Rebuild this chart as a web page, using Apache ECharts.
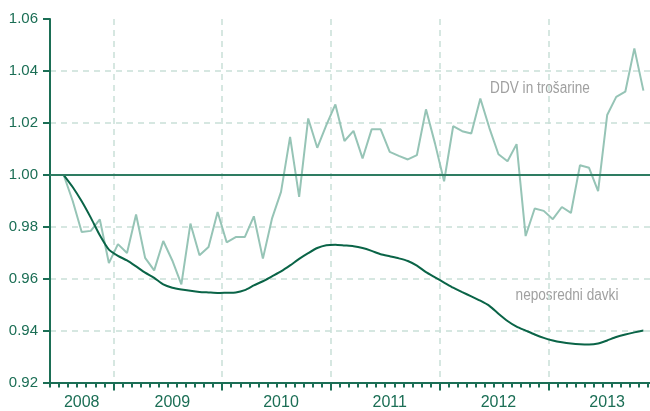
<!DOCTYPE html>
<html>
<head>
<meta charset="utf-8">
<script src="https://cdn.jsdelivr.net/npm/echarts@6/dist/echarts.min.js"></script>
<style>
  html, body { margin: 0; padding: 0; background: #fff; overflow: hidden; }
  /* the original chart is cut off on its right edge, inside December 2013 */
  #chart { width: 657px; height: 411px; }
</style>
</head>
<body>
<div id="chart"></div>
<script>
  // months from Jun 2008 to Dec 2013 (first and last have no value)
  const startYear = 2008;
  const startMonth = 6;
  const monthCount = 67;
  const months = [];
  for (let i = 0; i < monthCount; i++) {
    const m = startMonth - 1 + i;
    months.push((startYear + Math.floor(m / 12)) + '-' + String(m % 12 + 1).padStart(2, '0'));
  }

  // year labels and the month they sit on
  const yearLabels = { '2008-09': '2008', '2009-07': '2009', '2010-07': '2010', '2011-07': '2011', '2012-07': '2012', '2013-07': '2013' };

  // DDV in trošarine, Jul 2008 .. Nov 2013
  const ddv = [
    1.000, 0.990, 0.978, 0.9784, 0.9828, 0.966,
    0.9733, 0.9699, 0.9847, 0.968, 0.9632, 0.9745, 0.967, 0.9578, 0.9812, 0.969, 0.9722, 0.9857,
    0.974, 0.976, 0.976, 0.984, 0.9677, 0.9831, 0.9934, 1.0146, 0.9915, 1.0217, 1.0104, 1.0191,
    1.0271, 1.013, 1.0169, 1.0063, 1.0175, 1.0175, 1.0088, 1.0073, 1.0059, 1.0076, 1.0252, 1.012,
    0.9975, 1.0187, 1.0168, 1.0159, 1.0294, 1.018, 1.0079, 1.0052, 1.0118, 0.9764, 0.987, 0.9861,
    0.9829, 0.9876, 0.9853, 1.0037, 1.0027, 0.9937, 1.023, 1.030, 1.032, 1.0487, 1.0324
  ];

  // neposredni davki, Jul 2008 .. Nov 2013
  const neposredni = [
    1.000, 0.9953, 0.9898, 0.9835, 0.9767, 0.9712,
    0.9688, 0.967, 0.9647, 0.9623, 0.9603, 0.9578, 0.9565, 0.9558, 0.9553, 0.9549, 0.9547, 0.9545,
    0.9546, 0.9547, 0.9556, 0.9574, 0.959, 0.9609, 0.9628, 0.9651, 0.9676, 0.9698, 0.9718, 0.9729,
    0.9731, 0.9728, 0.9725, 0.9718, 0.9707, 0.9694, 0.9686, 0.9678, 0.9668, 0.965, 0.9625, 0.9605,
    0.9585, 0.9565, 0.9548, 0.9532, 0.9515, 0.9495, 0.9465, 0.9437, 0.9415, 0.94, 0.9385, 0.9372,
    0.9362, 0.9355, 0.935, 0.9347, 0.9346, 0.935, 0.9362, 0.9375, 0.9385, 0.9393, 0.94
  ];

  const baseLine = 1.00;
  const yMin = 0.92, yMax = 1.06, yStep = 0.02;

  const pad = (arr) => [null].concat(arr, [null]);

  const dark = '#1b6e55';
  const gridColor = '#c9dfd8';
  const noteFont = '16px "Liberation Sans", sans-serif';
  const isJanuary = (index, value) => String(value).slice(5) === '01';

  const chart = echarts.init(document.getElementById('chart'));
  const option = {
    animation: false,
    backgroundColor: '#fff',
    grid: { left: 50, right: 0, top: 19, bottom: 28.5, containLabel: false },
    xAxis: [
      {
        type: 'category',
        data: months,
        boundaryGap: true,
        axisLine: { show: true, lineStyle: { color: dark, width: 2 } },
        axisTick: { show: true, interval: 0, inside: false, length: 5, lineStyle: { color: dark, width: 2 } },
        axisLabel: {
          interval: (index, value) => yearLabels[value] !== undefined,
          formatter: (value) => yearLabels[value] || '',
          color: dark,
          fontFamily: 'Liberation Sans',
          fontSize: 16,
          margin: 12
        },
        splitLine: { show: false }
      },
      {
        type: 'category',
        data: months,
        boundaryGap: true,
        position: 'bottom',
        axisLine: { show: false },
        axisTick: { show: true, interval: isJanuary, inside: false, length: 8, lineStyle: { color: dark, width: 2 } },
        axisLabel: { show: false },
        splitLine: { show: true, interval: isJanuary, lineStyle: { color: gridColor, width: 1.5, type: [6, 5] } }
      }
    ],
    yAxis: {
      type: 'value',
      min: yMin,
      max: yMax,
      interval: yStep,
      axisLine: { show: true, lineStyle: { color: dark, width: 2 } },
      axisTick: { show: true, inside: false, length: 7, lineStyle: { color: dark, width: 2 } },
      axisLabel: {
        formatter: (v) => v.toFixed(2),
        color: dark,
        fontFamily: 'Liberation Sans',
        fontSize: 15,
        margin: 12
      },
      splitLine: { show: true, showMaxLine: false, lineStyle: { color: gridColor, width: 1.5, type: [6, 5] } }
    },
    series: [
      {
        name: 'DDV in trošarine',
        type: 'line',
        data: pad(ddv),
        symbol: 'none',
        lineStyle: { color: '#96c4b6', width: 2 },
        z: 3,
        markLine: {
          silent: true,
          symbol: 'none',
          label: { show: false },
          lineStyle: { color: '#2e7c62', width: 2, type: 'solid' },
          data: [{ yAxis: baseLine }]
        }
      },
      {
        name: 'neposredni davki',
        type: 'line',
        data: pad(neposredni),
        symbol: 'none',
        smooth: 0.2,
        lineStyle: { color: '#0a6447', width: 2 },
        z: 4
      }
    ],
    // narrow annotation text (condensed look of the original)
    graphic: [
      {
        type: 'text',
        x: 540, y: 89,
        scaleX: 0.85,
        style: { text: 'DDV in trošarine', fill: '#a0a0a0', font: noteFont, align: 'center', verticalAlign: 'middle' }
      },
      {
        type: 'text',
        x: 567, y: 296,
        scaleX: 0.85,
        style: { text: 'neposredni davki', fill: '#a0a0a0', font: noteFont, align: 'center', verticalAlign: 'middle' }
      }
    ]
  };
  chart.setOption(option);
</script>
</body>
</html>
